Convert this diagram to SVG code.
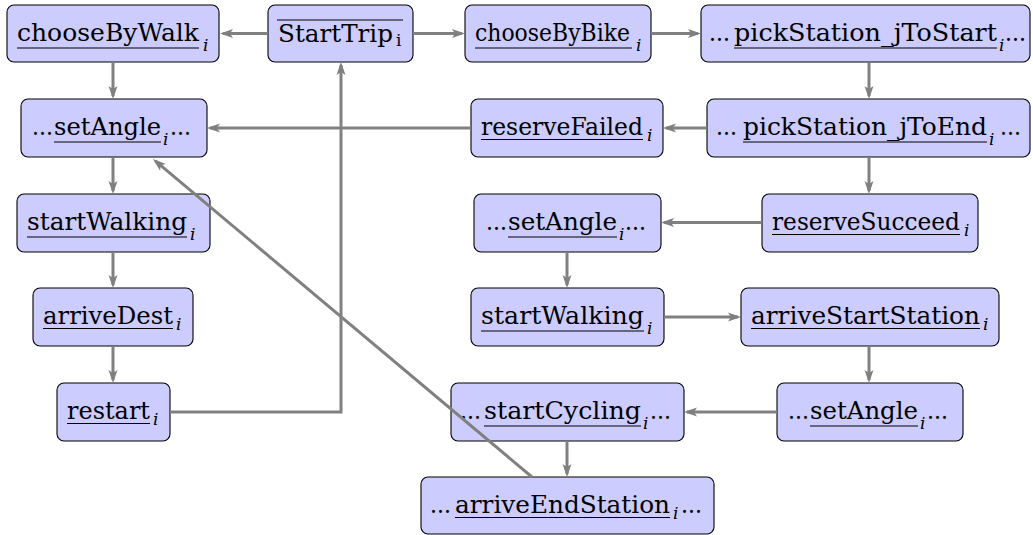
<svg xmlns="http://www.w3.org/2000/svg" width="1033" height="535" viewBox="0 0 1033 535">
<style>
.box{fill:#ccccff;stroke:#000;stroke-width:1.1}
text{font-family:'DejaVu Serif','Liberation Serif',serif;fill:#000}
.t{font-size:24px}
.s{font-size:17px;font-style:italic}
.sr{font-size:17px}
.ul{stroke:#000;stroke-width:1.2;fill:none}
.c{stroke:#808080;stroke-width:3;fill:none}
</style>
<defs>
<marker id="ah" markerUnits="userSpaceOnUse" markerWidth="14" markerHeight="10" refX="10" refY="4.5" orient="auto" overflow="visible">
<path d="M0,0 L13,4.5 L0,9 L3,4.5 z" fill="#808080"/>
</marker>
</defs>
<g id="nodes">
<g id="chooseByWalk"><rect class="box" x="7" y="5" width="212" height="57" rx="7"/><text class="t" x="17" y="41" textLength="182" lengthAdjust="spacingAndGlyphs">chooseByWalk</text><path class="ul" d="M17,48H199"/><text class="s" x="203" y="51">i</text></g>
<g id="StartTrip"><rect class="box" x="268" y="5" width="145" height="57" rx="7"/><text class="t" x="278" y="42" textLength="115" lengthAdjust="spacingAndGlyphs">StartTrip</text><text class="sr" x="396" y="46">i</text><path class="ul" d="M277,20H403"/></g>
<g id="chooseByBike"><rect class="box" x="465" y="5" width="186" height="57" rx="7"/><text class="t" x="475" y="41" textLength="155" lengthAdjust="spacingAndGlyphs">chooseByBike</text><path class="ul" d="M475,48H632"/><text class="s" x="636" y="51">i</text></g>
<g id="pickStationToStart"><rect class="box" x="701" y="5" width="329" height="57" rx="7"/><text class="t" x="709" y="41" textLength="21" lengthAdjust="spacingAndGlyphs">...</text><text class="t" x="734" y="41" textLength="263" lengthAdjust="spacingAndGlyphs">pickStation_jToStart</text><path class="ul" d="M734,48H997"/><text class="s" x="999" y="51">i</text><text class="t" x="1005" y="41" textLength="21" lengthAdjust="spacingAndGlyphs">...</text></g>
<g id="setAngleWalk"><rect class="box" x="21" y="99" width="186" height="58" rx="7"/><text class="t" x="32" y="135" textLength="21" lengthAdjust="spacingAndGlyphs">...</text><text class="t" x="54" y="135" textLength="107" lengthAdjust="spacingAndGlyphs">setAngle</text><path class="ul" d="M54,142H161"/><text class="s" x="163" y="145">i</text><text class="t" x="170" y="135" textLength="21" lengthAdjust="spacingAndGlyphs">...</text></g>
<g id="reserveFailed"><rect class="box" x="471" y="99" width="192" height="58" rx="7"/><text class="t" x="481" y="135" textLength="162" lengthAdjust="spacingAndGlyphs">reserveFailed</text><path class="ul" d="M481,139.5H643"/><text class="s" x="647" y="141">i</text></g>
<g id="pickStationToEnd"><rect class="box" x="707" y="99" width="323" height="58" rx="7"/><text class="t" x="716" y="135" textLength="21" lengthAdjust="spacingAndGlyphs">...</text><text class="t" x="743" y="135" textLength="244" lengthAdjust="spacingAndGlyphs">pickStation_jToEnd</text><path class="ul" d="M743,142H987"/><text class="s" x="989" y="145">i</text><text class="t" x="1000" y="135" textLength="21" lengthAdjust="spacingAndGlyphs">...</text></g>
<g id="startWalkingWalk"><rect class="box" x="17" y="194" width="193" height="58" rx="7"/><text class="t" x="27" y="230" textLength="160" lengthAdjust="spacingAndGlyphs">startWalking</text><path class="ul" d="M27,237H187"/><text class="s" x="190" y="240">i</text></g>
<g id="setAngleBike"><rect class="box" x="474" y="194" width="187" height="58" rx="7"/><text class="t" x="486" y="230" textLength="21" lengthAdjust="spacingAndGlyphs">...</text><text class="t" x="508" y="230" textLength="109" lengthAdjust="spacingAndGlyphs">setAngle</text><path class="ul" d="M508,237H617"/><text class="s" x="619" y="240">i</text><text class="t" x="625" y="230" textLength="21" lengthAdjust="spacingAndGlyphs">...</text></g>
<g id="reserveSucceed"><rect class="box" x="762" y="194" width="216" height="58" rx="7"/><text class="t" x="772" y="230" textLength="188" lengthAdjust="spacingAndGlyphs">reserveSucceed</text><path class="ul" d="M772,234.5H960"/><text class="s" x="964" y="236">i</text></g>
<g id="arriveDest"><rect class="box" x="33" y="288" width="160" height="58" rx="7"/><text class="t" x="43" y="324" textLength="130" lengthAdjust="spacingAndGlyphs">arriveDest</text><path class="ul" d="M43,328.5H173"/><text class="s" x="176" y="330">i</text></g>
<g id="startWalkingBike"><rect class="box" x="471" y="288" width="193" height="58" rx="7"/><text class="t" x="481" y="324" textLength="163" lengthAdjust="spacingAndGlyphs">startWalking</text><path class="ul" d="M481,331H644"/><text class="s" x="647" y="334">i</text></g>
<g id="arriveStartStation"><rect class="box" x="741" y="288" width="258" height="58" rx="7"/><text class="t" x="751" y="324" textLength="229" lengthAdjust="spacingAndGlyphs">arriveStartStation</text><path class="ul" d="M751,328.5H980"/><text class="s" x="983" y="330">i</text></g>
<g id="restart"><rect class="box" x="57" y="383" width="113" height="58" rx="7"/><text class="t" x="67" y="419" textLength="83" lengthAdjust="spacingAndGlyphs">restart</text><path class="ul" d="M67,423.5H150"/><text class="s" x="153" y="425">i</text></g>
<g id="startCycling"><rect class="box" x="451" y="383" width="233" height="58" rx="7"/><text class="t" x="460" y="419" textLength="21" lengthAdjust="spacingAndGlyphs">...</text><text class="t" x="484" y="419" textLength="157" lengthAdjust="spacingAndGlyphs">startCycling</text><path class="ul" d="M484,426H641"/><text class="s" x="643" y="429">i</text><text class="t" x="650" y="419" textLength="21" lengthAdjust="spacingAndGlyphs">...</text></g>
<g id="setAngleCycle"><rect class="box" x="777" y="383" width="186" height="58" rx="7"/><text class="t" x="788" y="419" textLength="21" lengthAdjust="spacingAndGlyphs">...</text><text class="t" x="810" y="419" textLength="108" lengthAdjust="spacingAndGlyphs">setAngle</text><path class="ul" d="M810,426H918"/><text class="s" x="920" y="429">i</text><text class="t" x="927" y="419" textLength="21" lengthAdjust="spacingAndGlyphs">...</text></g>
<g id="arriveEndStation"><rect class="box" x="421" y="477" width="293" height="57" rx="7"/><text class="t" x="430" y="513" textLength="21" lengthAdjust="spacingAndGlyphs">...</text><text class="t" x="455" y="513" textLength="215" lengthAdjust="spacingAndGlyphs">arriveEndStation</text><path class="ul" d="M455,517.5H670"/><text class="s" x="673" y="519">i</text><text class="t" x="681" y="513" textLength="21" lengthAdjust="spacingAndGlyphs">...</text></g>
</g>
<g id="connectors">
<path class="c" marker-end="url(#ah)" d="M268,33.5H223"/>
<path class="c" marker-end="url(#ah)" d="M413,33.5H462"/>
<path class="c" marker-end="url(#ah)" d="M651,33.5H698"/>
<path class="c" marker-end="url(#ah)" d="M113,62V96"/>
<path class="c" marker-end="url(#ah)" d="M869,62V96"/>
<path class="c" marker-end="url(#ah)" d="M707,128H666"/>
<path class="c" marker-end="url(#ah)" d="M471,128H210"/>
<path class="c" marker-end="url(#ah)" d="M869,157V191"/>
<path class="c" marker-end="url(#ah)" d="M762,222.5H664"/>
<path class="c" marker-end="url(#ah)" d="M113,157V191"/>
<path class="c" marker-end="url(#ah)" d="M567,252V285"/>
<path class="c" marker-end="url(#ah)" d="M664,317H738"/>
<path class="c" marker-end="url(#ah)" d="M113,252V285"/>
<path class="c" marker-end="url(#ah)" d="M113,346V380"/>
<path class="c" marker-end="url(#ah)" d="M869,346V380"/>
<path class="c" marker-end="url(#ah)" d="M777,412H687"/>
<path class="c" marker-end="url(#ah)" d="M567,441V474"/>
<path class="c" marker-end="url(#ah)" d="M170,412H341V65"/>
<path class="c" marker-end="url(#ah)" d="M532,477L155.3,160.9"/>
</g>
</svg>
